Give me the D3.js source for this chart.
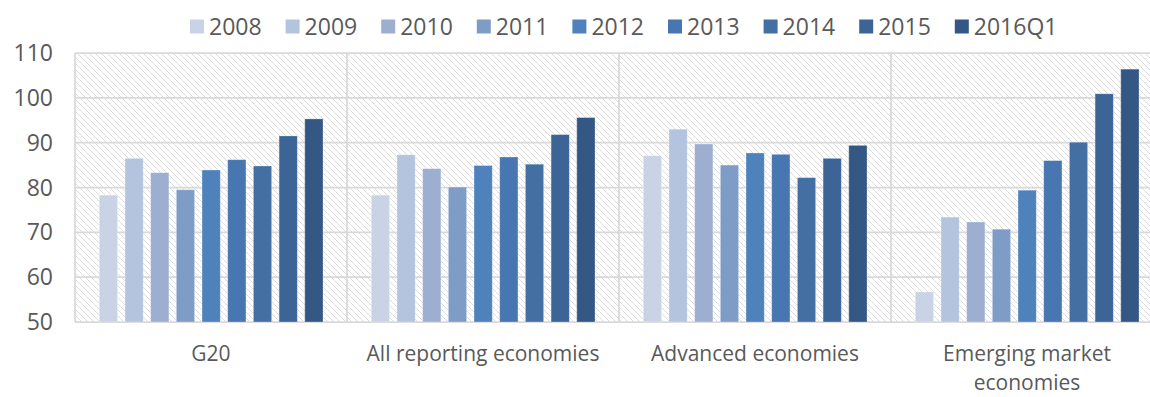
<!DOCTYPE html>
<html>
<head>
<meta charset="utf-8">
<script src="https://cdn.jsdelivr.net/npm/d3@7"></script>
<style>
  body { margin: 0; background: #fff; }
  text { font-family: "Open Sans", "Noto Sans", sans-serif; fill: #595959; }
</style>
</head>
<body>
<div id="chart"></div>
<script>
// data
const categories = ["G20", "All reporting economies", "Advanced economies", "Emerging market economies"];
const series = ["2008", "2009", "2010", "2011", "2012", "2013", "2014", "2015", "2016Q1"];
const g20 = [78.3, 86.5, 83.3, 79.5, 83.9, 86.2, 84.8, 91.5, 95.3];
const allReporting = [78.3, 87.3, 84.2, 80.1, 84.9, 86.8, 85.2, 91.8, 95.6];
const advanced = [87.1, 93.0, 89.7, 85.0, 87.7, 87.4, 82.2, 86.5, 89.4];
const emerging = [56.7, 73.4, 72.3, 70.7, 79.4, 86.0, 90.1, 100.9, 106.4];
const yTicks = [50, 60, 70, 80, 90, 100, 110];
const colors = ["#c9d3e5", "#b5c4de", "#9daed1", "#7f9cc7", "#4f81bd", "#4876b0", "#436fa3", "#3c6496", "#345884"];

const values = [g20, allReporting, advanced, emerging];

var width = 1150;
var height = 397;
const plot = { left: 75, right: 1163, top: 53, bottom: 322 };

const svg = d3.select("#chart").append("svg")
    .attr("width", width)
    .attr("height", height);

// hatched background
const defs = svg.append("defs");
const pat = defs.append("pattern")
    .attr("id", "hatch")
    .attr("patternUnits", "userSpaceOnUse")
    .attr("width", 6)
    .attr("height", 6);
pat.append("rect").attr("width", 6).attr("height", 6).attr("fill", "#fff");
pat.append("path")
    .attr("d", "M0,0 L6,6 M-1,5 L1,7 M5,-1 L7,1")
    .attr("stroke", "#dcdcdc")
    .attr("stroke-width", 1);

const x0 = d3.scaleBand()
    .domain(categories)
    .range([plot.left, plot.right])
    .padding(0);

const x1 = d3.scaleBand()
    .domain(series)
    .range([24.3, 248])
    .paddingInner(0.29)
    .paddingOuter(0);

const y = d3.scaleLinear()
    .domain([50, 110])
    .range([plot.bottom, plot.top]);

svg.append("rect")
    .attr("x", plot.left)
    .attr("y", plot.top)
    .attr("width", plot.right - plot.left)
    .attr("height", plot.bottom - plot.top)
    .attr("fill", "url(#hatch)");

// horizontal gridlines
svg.append("g")
    .selectAll("line")
    .data(yTicks)
    .enter().append("line")
    .attr("x1", plot.left)
    .attr("x2", plot.right)
    .attr("y1", d => y(d))
    .attr("y2", d => y(d))
    .attr("stroke", "#d9d9d9")
    .attr("stroke-width", 1.75);

// vertical category separators
svg.append("g")
    .selectAll("line")
    .data(categories.concat(["end"]))
    .enter().append("line")
    .attr("x1", (d, i) => i < categories.length ? x0(d) : plot.right)
    .attr("x2", (d, i) => i < categories.length ? x0(d) : plot.right)
    .attr("y1", plot.top)
    .attr("y2", plot.bottom)
    .attr("stroke", "#d9d9d9")
    .attr("stroke-width", 1.75);

// bars
const groups = svg.append("g")
    .selectAll("g")
    .data(categories)
    .enter().append("g")
    .attr("transform", d => "translate(" + x0(d) + ",0)");

groups.selectAll("rect")
    .data((d, i) => values[i].map((v, j) => ({ key: series[j], value: v, idx: j })))
    .enter().append("rect")
    .attr("x", d => x1(d.key))
    .attr("width", x1.bandwidth())
    .attr("y", d => y(d.value))
    .attr("height", d => y(50) - y(d.value))
    .attr("fill", d => colors[d.idx])
    .attr("stroke", "#ffffff")
    .attr("stroke-opacity", 0.35)
    .attr("stroke-width", 0.8);

// y axis labels
svg.append("g")
    .selectAll("text")
    .data(yTicks)
    .enter().append("text")
    .attr("x", 53)
    .attr("y", d => y(d))
    .attr("dy", "0.35em")
    .attr("text-anchor", "end")
    .style("font-size", "23px")
    .text(d => d);

// category labels, wrapped like the reference
const catLines = {
    "G20": ["G20"],
    "All reporting economies": ["All reporting economies"],
    "Advanced economies": ["Advanced economies"],
    "Emerging market economies": ["Emerging market", "economies"]
};
const catText = svg.append("g")
    .selectAll("text")
    .data(categories)
    .enter().append("text")
    .attr("text-anchor", "middle")
    .style("font-size", "21px");
catText.selectAll("tspan")
    .data(d => catLines[d].map(t => ({ t: t, cx: x0(d) + x0.bandwidth() / 2 })))
    .enter().append("tspan")
    .attr("x", d => d.cx)
    .attr("y", (d, i) => 361 + i * 29)
    .text(d => d.t);

// legend
const legend = svg.append("g");
const legStep = 95.6;
const legItem = legend.selectAll("g")
    .data(series)
    .enter().append("g")
    .attr("transform", (d, i) => "translate(" + (190 + i * legStep) + ",0)");
legItem.append("rect")
    .attr("x", 0)
    .attr("y", 19.5)
    .attr("width", 14)
    .attr("height", 14)
    .attr("fill", (d, i) => colors[i]);
legItem.append("text")
    .attr("x", 19)
    .attr("y", 35)
    .style("font-size", "23px")
    .text(d => d);
</script>
</body>
</html>
